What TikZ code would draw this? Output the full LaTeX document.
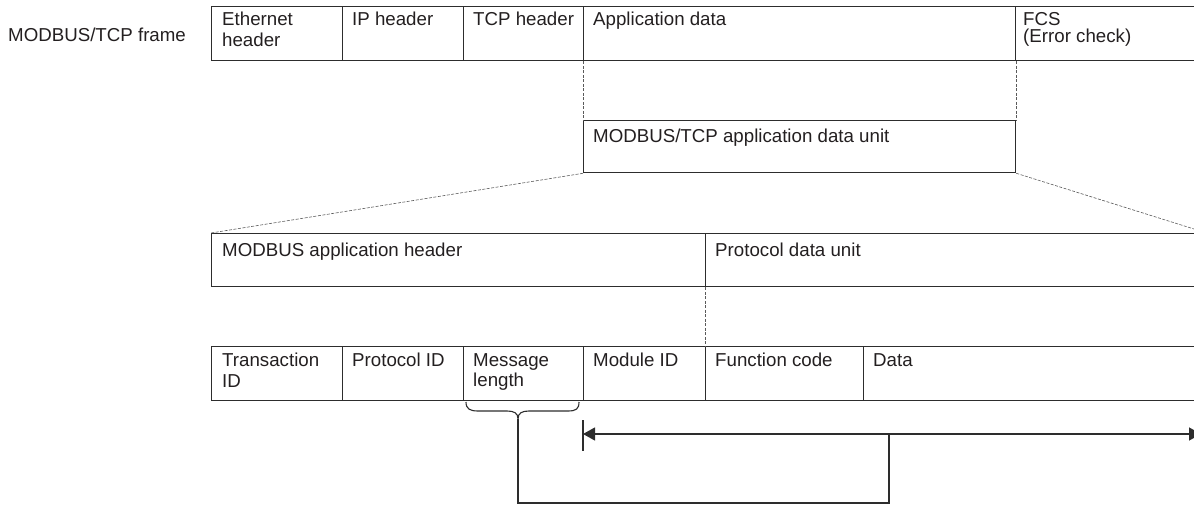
\documentclass[tikz,border=0pt]{standalone}
\usepackage{fontspec}
\setmainfont{Liberation Sans}
\usetikzlibrary{arrows.meta}
\definecolor{ink}{RGB}{35,31,32}
\definecolor{linec}{RGB}{45,45,45}
\definecolor{dashc}{RGB}{90,90,90}
\tikzset{
  cell/.style={draw=linec, line width=1.3pt, anchor=north west, inner sep=0pt, minimum height=#1},
  cell/.default=54pt,
  lbl/.style={anchor=north west, inner sep=0pt, align=left, text=ink,
              font=\fontsize{18.7pt}{20.5pt}\selectfont},
  dashline/.style={draw=dashc, line width=0.6pt, dash pattern=on 3pt off 1.5pt},
  conn/.style={draw=linec, line width=1.3pt}
}
\begin{document}
\begin{tikzpicture}[x=1pt,y=-1pt]
\useasboundingbox (0,0) rectangle (1194,505);
% title
\node[lbl, anchor=west] (title) at (8,35) {MODBUS/TCP frame};
% top frame
\node[cell, minimum width=131pt] (eth) at (211,6) {};
\node[cell, minimum width=121pt] (ip)  at (342,6) {};
\node[cell, minimum width=120pt] (tcp) at (463,6) {};
\node[cell, minimum width=432pt] (app) at (583,6) {};
\node[cell, minimum width=200pt] (fcs) at (1015,6) {};
\node[lbl] (eth-t) at ([shift={(11,6)}]eth.north west) {Ethernet\\header};
\node[lbl] (ip-t)  at ([shift={(10,6)}]ip.north west) {IP header};
\node[lbl] (tcp-t) at ([shift={(10,6)}]tcp.north west) {TCP header};
\node[lbl] (app-t) at ([shift={(10,6)}]app.north west) {Application data};
\node[lbl, font=\fontsize{18.7pt}{17pt}\selectfont] (fcs-t) at ([shift={(8,6)}]fcs.north west) {FCS\\(Error check)};
% ADU
\node[cell=52pt, minimum width=432pt] (adu) at (583,120) {};
\node[lbl] (adu-t) at ([shift={(10,9)}]adu.north west) {MODBUS/TCP application data unit};
\draw[dashline] (app.south west) -- (adu.north west);
\draw[dashline] (app.south east) -- (adu.north east);
% middle row
\node[cell=53pt, minimum width=494pt] (mah) at (211,233) {};
\node[cell=53pt, minimum width=505pt] (pdu) at (705,233) {};
\node[lbl] (mah-t) at ([shift={(11,10)}]mah.north west) {MODBUS application header};
\node[lbl] (pdu-t) at ([shift={(10,10)}]pdu.north west) {Protocol data unit};
\coordinate (rtop) at (1194,229);
\draw[dashline] (adu.south west) -- (mah.north west);
\draw[dashline] (adu.south east) -- (rtop);
% bottom row
\node[cell, minimum width=131pt] (tid) at (211,346) {};
\node[cell, minimum width=121pt] (pid) at (342,346) {};
\node[cell, minimum width=120pt] (mlen) at (463,346) {};
\node[cell, minimum width=122pt] (mid) at (583,346) {};
\node[cell, minimum width=158pt] (fc)  at (705,346) {};
\node[cell, minimum width=347pt] (dat) at (863,346) {};
\node[lbl] (tid-t)  at ([shift={(11,7)}]tid.north west) {Transaction\\ID};
\node[lbl] (pid-t)  at ([shift={(10,7)}]pid.north west) {Protocol ID};
\node[lbl] (mlen-t) at ([shift={(10,7)}]mlen.north west) {Message\\length};
\node[lbl] (mid-t)  at ([shift={(10,7)}]mid.north west) {Module ID};
\node[lbl] (fc-t)   at ([shift={(10,7)}]fc.north west) {Function code};
\node[lbl] (dat-t)  at ([shift={(10,7)}]dat.north west) {Data};
\draw[dashline] (pdu.south west) -- (fc.north west);
% brace under Message length
\coordinate (btip) at (518,419);
\draw[conn, line width=1.1pt] (466,402) .. controls (466,409) and (470,411) .. (478,411) -- (507,411)
  .. controls (514,411) and (518,413) .. (btip)
  .. controls (518,413) and (522,411) .. (529,411) -- (568,411)
  .. controls (576,411) and (579,409) .. (579,402);
% length arrow
\coordinate (aleft) at (583,434);
\coordinate (aright) at (1201,434);
\coordinate (ajoin) at (889,434);
\coordinate (tickt) at (583,420);
\coordinate (tickb) at (583,451);
\draw[conn] (tickt) -- (tickb);
\draw[conn, {Triangle[length=12pt,width=13pt]}-{Triangle[length=12pt,width=13pt]}] (aleft) -- (aright);
\draw[conn] (btip) |- (889,503) -- (ajoin);
\end{tikzpicture}
\end{document}
